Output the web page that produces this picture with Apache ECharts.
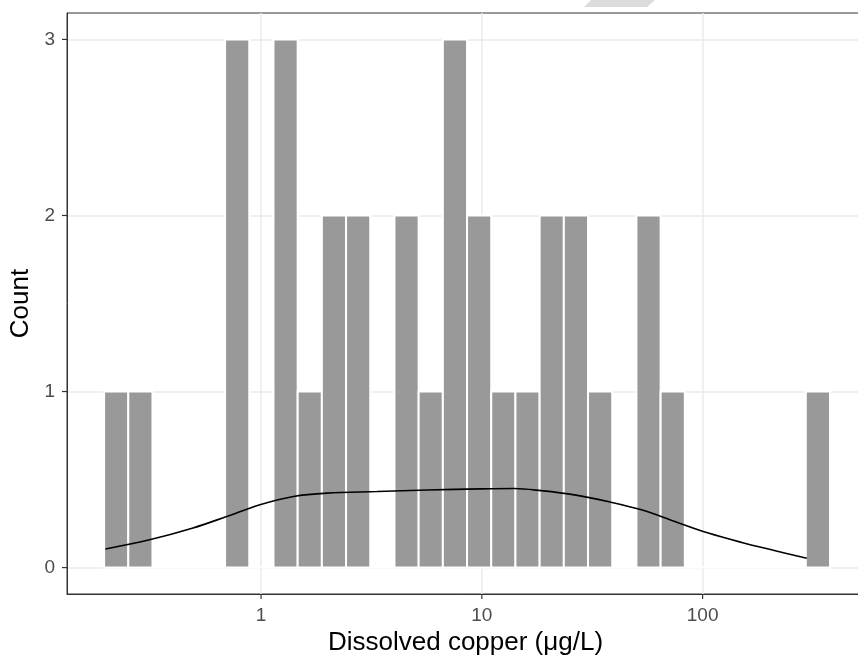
<!DOCTYPE html>
<html>
<head>
<meta charset="utf-8">
<script src="https://cdn.jsdelivr.net/npm/echarts@6/dist/echarts.min.js"></script>
<style>
  html, body { margin: 0; padding: 0; background: #fff; }
  #chart { width: 858px; height: 656px; }
</style>
</head>
<body>
<div id="chart"></div>
<script>
// histogram of log10(dissolved copper), 30 bins
var binStart = -0.711;   // log10 of first bin's left edge
var binWidth = 0.1096;   // log10 units
var binCounts = [1, 1, 0, 0, 0, 3, 0, 3, 1, 2, 2, 0, 2, 1, 3, 2, 1, 1, 2, 2, 1, 0, 2, 1, 0, 0, 0, 0, 0, 1];

// density curve (x in log10 ug/L)
var densityLogX = [-0.705, -0.505, -0.308, -0.156, -0.005, 0.147, 0.299, 0.526, 0.753, 0.995,
  1.147, 1.268, 1.420, 1.571, 1.723, 1.874, 2.026, 2.177, 2.329, 2.472];
var densityY = [0.106, 0.158, 0.225, 0.290, 0.357, 0.404, 0.423, 0.432, 0.441, 0.447,
  0.449, 0.437, 0.413, 0.375, 0.328, 0.262, 0.196, 0.143, 0.096, 0.053];

var xTicks = [0, 1, 2];      // 1, 10, 100
var yTicks = [0, 1, 2, 3];

var X_MIN = -0.879, X_MAX = 2.731;
var Y_MIN = -0.15, Y_MAX = 3.15;
var TICK_LEN = 5;

var FONT = "'Liberation Sans', Arial, sans-serif";

var bins = binCounts.map(function (n, i) {
  var lo = binStart + i * binWidth;
  return [lo, lo + binWidth, n];
});
var density = densityLogX.map(function (x, i) { return [x, densityY[i]]; });

var chart = echarts.init(document.getElementById("chart"));
chart.setOption({
  animation: false,
  backgroundColor: "#fff",
  textStyle: { fontFamily: FONT },
  grid: {
    left: 67, top: 13, bottom: 62, right: -6,
    outerBoundsMode: "none",
    show: true, borderColor: "#333333", borderWidth: 1
  },
  xAxis: {
    type: "value",
    min: X_MIN,
    max: X_MAX,
    name: "Dissolved copper (\u03bcg/L)",
    nameLocation: "middle",
    nameGap: 36,
    nameTextStyle: { color: "#000", fontSize: 26, fontFamily: FONT },
    axisLine: { show: true, onZero: false, lineStyle: { color: "#333333", width: 1 } },
    axisTick: { show: false, customValues: xTicks },
    axisLabel: {
      customValues: xTicks,
      margin: 12,
      color: "#4D4D4D",
      fontSize: 19,
      fontFamily: FONT,
      formatter: function (v) { return String(Math.round(Math.pow(10, v))); }
    },
    splitLine: { show: true, lineStyle: { color: "#EBEBEB", width: 1.5 } }
  },
  yAxis: {
    type: "value",
    min: Y_MIN,
    max: Y_MAX,
    name: "Count",
    nameLocation: "middle",
    nameGap: 25,
    nameTextStyle: { color: "#000", fontSize: 26, fontFamily: FONT },
    axisLine: { show: true, onZero: false, lineStyle: { color: "#333333", width: 1 } },
    axisTick: { show: false, customValues: yTicks },
    axisLabel: {
      customValues: yTicks,
      margin: 12,
      color: "#4D4D4D",
      fontSize: 19,
      fontFamily: FONT
    },
    splitLine: { show: true, lineStyle: { color: "#EBEBEB", width: 1.5 } }
  },
  series: [
    {
      type: "custom",
      data: bins,
      encode: { x: [0, 1], y: 2 },
      renderItem: function (params, api) {
        var top = api.coord([api.value(0), api.value(2)]);
        var bot = api.coord([api.value(1), 0]);
        return {
          type: "rect",
          shape: { x: top[0], y: top[1], width: bot[0] - top[0], height: bot[1] - top[1] },
          style: { fill: "#999999", stroke: "#ffffff", lineWidth: 2 }
        };
      },
      z: 2
    },
    {
      type: "line",
      data: density,
      smooth: 0.35,
      showSymbol: false,
      lineStyle: { color: "#000", width: 1.6 },
      z: 3
    }
  ]
});

// axis ticks on the panel edges, placed through the chart's own scales
var tickStyle = { stroke: "#333333", lineWidth: 1.2 };
var elements = [{
  type: "polygon",
  shape: { points: [[591, 0], [655, 0], [647, 7], [584, 7]] },
  style: { fill: "#DCDCDC" },
  silent: true
}];
xTicks.forEach(function (v) {
  var p = chart.convertToPixel({ gridIndex: 0 }, [v, Y_MIN]);
  elements.push({ type: "line", z: 100, silent: true, style: tickStyle,
    shape: { x1: p[0], y1: p[1], x2: p[0], y2: p[1] + TICK_LEN } });
});
yTicks.forEach(function (v) {
  var p = chart.convertToPixel({ gridIndex: 0 }, [X_MIN, v]);
  elements.push({ type: "line", z: 100, silent: true, style: tickStyle,
    shape: { x1: p[0] - TICK_LEN, y1: p[1], x2: p[0], y2: p[1] } });
});
chart.setOption({ graphic: elements });
</script>
</body>
</html>
